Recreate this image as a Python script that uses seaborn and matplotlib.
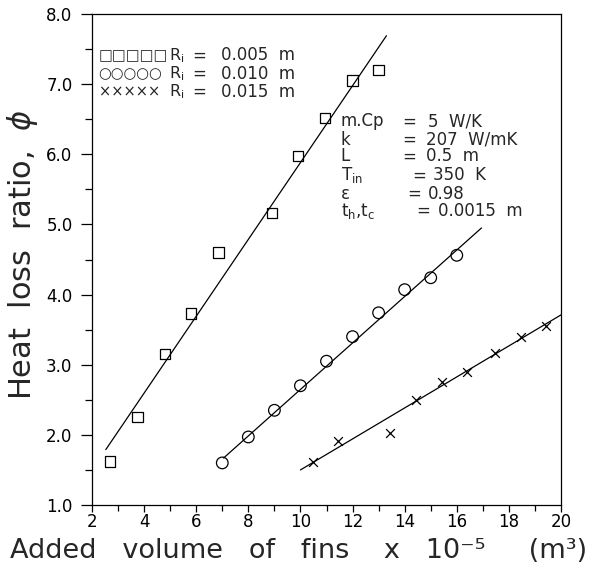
import matplotlib
matplotlib.use("Agg")
import matplotlib.pyplot as plt
import seaborn as sns
from matplotlib.ticker import MultipleLocator, FormatStrFormatter

# ---- data ----
sq_x = [2.7, 3.75, 4.8, 5.8, 6.85, 8.9, 9.9, 10.95, 12.0, 13.0]
sq_y = [1.62, 2.25, 3.15, 3.73, 4.60, 5.16, 5.98, 6.52, 7.05, 7.20]
sq_fit_x = [2.53, 13.3]
sq_fit_y = [1.79, 7.69]

ci_x = [7.0, 8.0, 9.0, 10.0, 11.0, 12.0, 13.0, 14.0, 15.0, 16.0]
ci_y = [1.60, 1.97, 2.35, 2.70, 3.05, 3.40, 3.74, 4.07, 4.24, 4.56]
ci_fit_x = [7.05, 16.95]
ci_fit_y = [1.67, 4.95]

cr_x = [10.47, 11.46, 13.42, 14.45, 15.44, 16.41, 17.46, 18.47, 19.43]
cr_y = [1.62, 1.91, 2.03, 2.50, 2.75, 2.90, 3.16, 3.40, 3.55]
cr_fit_x = [10.0, 20.0]
cr_fit_y = [1.50, 3.71]

legend_symbols = ["\u25a1\u25a1\u25a1\u25a1\u25a1", "\u25cb\u25cb\u25cb\u25cb\u25cb", "\u00d7\u00d7\u00d7\u00d7\u00d7"]
legend_values = ["0.005", "0.010", "0.015"]

param_names = ["m.Cp", "k", "L", "T$_{\\rm in}$", "\u03b5", "t$_{\\rm h}$,t$_{\\rm c}$"]
param_values = ["5  W/K", "207  W/mK", "0.5  m", "350  K", "0.98", "0.0015  m"]

xticks = [2, 4, 6, 8, 10, 12, 14, 16, 18, 20]
yticks = [1.0, 2.0, 3.0, 4.0, 5.0, 6.0, 7.0, 8.0]

# ---- style ----
sns.set_theme(style="ticks")
plt.rcParams["font.family"] = ["DejaVu Sans"]
plt.rcParams["mathtext.fontset"] = "dejavusans"

fig = plt.figure(figsize=(6.01, 5.65), dpi=100)
ax = fig.add_axes([92/601, 1-505/565, (561-92)/601, (505-14)/565])

k = "black"
sns.lineplot(x=sq_fit_x, y=sq_fit_y, color=k, lw=0.9, ax=ax)
sns.lineplot(x=ci_fit_x, y=ci_fit_y, color=k, lw=0.9, ax=ax)
sns.lineplot(x=cr_fit_x, y=cr_fit_y, color=k, lw=0.9, ax=ax)

sns.scatterplot(x=sq_x, y=sq_y, marker="s", s=55, facecolor="none",
                edgecolor=k, linewidth=0.9, ax=ax, zorder=3)
sns.scatterplot(x=ci_x, y=ci_y, marker="o", s=70, facecolor="none",
                edgecolor=k, linewidth=0.9, ax=ax, zorder=3)
sns.scatterplot(x=cr_x, y=cr_y, marker="x", s=40, color=k,
                linewidth=0.9, ax=ax, zorder=3)

ax.set_xlim(2, 20)
ax.set_ylim(1, 8)
ax.set_xticks(xticks)
ax.set_yticks(yticks)
ax.xaxis.set_minor_locator(MultipleLocator(1))
ax.yaxis.set_minor_locator(MultipleLocator(0.5))
ax.yaxis.set_major_formatter(FormatStrFormatter("%.1f"))
ax.tick_params(which="both", direction="out", width=0.9, colors=k)
ax.tick_params(axis="y", which="major", length=8, pad=6, labelsize=12)
ax.tick_params(axis="y", which="minor", length=5)
ax.tick_params(axis="x", which="major", length=5, pad=1, labelsize=12)
ax.tick_params(axis="x", which="minor", length=4)
for sp in ax.spines.values():
    sp.set_visible(True)
    sp.set_linewidth(0.9)
    sp.set_color(k)

ax.set_xlabel("Added   volume   of   fins    x   10\u207b\u2075     (m\u00b3)", fontsize=19.5)
ax.xaxis.label.set_va("baseline")
ax.xaxis.set_label_coords(0.44, -0.1085)
ax.set_ylabel("Heat  loss  ratio,  $\\phi$", fontsize=22)
ax.yaxis.label.set_va("center")
ax.yaxis.set_label_coords(-0.149, 0.509)

# legend block
leg_y = [7.41, 7.15, 6.89]
for sym, val, yy in zip(legend_symbols, legend_values, leg_y):
    ax.text(2.25, yy, sym, fontsize=10.5, va="center", ha="left")
    ax.text(4.95, yy, "R$_{\\rm i}$", fontsize=11.5, va="center", ha="left")
    ax.text(5.85, yy, "=", fontsize=12, va="center", ha="left")
    ax.text(6.95, yy, val + "  m", fontsize=12, va="center", ha="left")

# parameter block
par_y = [6.47, 6.21, 5.97, 5.70, 5.44, 5.19]
eq_x = [13.9, 13.9, 13.9, 14.3, 14.1, 14.45]
val_x = [14.88, 14.8, 14.8, 15.08, 14.9, 15.27]
for name, val, yy, ex, vx in zip(param_names, param_values, par_y, eq_x, val_x):
    ax.text(11.55, yy, name, fontsize=12, va="center", ha="left")
    ax.text(ex, yy, "=", fontsize=12, va="center", ha="left")
    ax.text(vx, yy, val, fontsize=12, va="center", ha="left")

fig.savefig("out.png", dpi=100, facecolor="white")
